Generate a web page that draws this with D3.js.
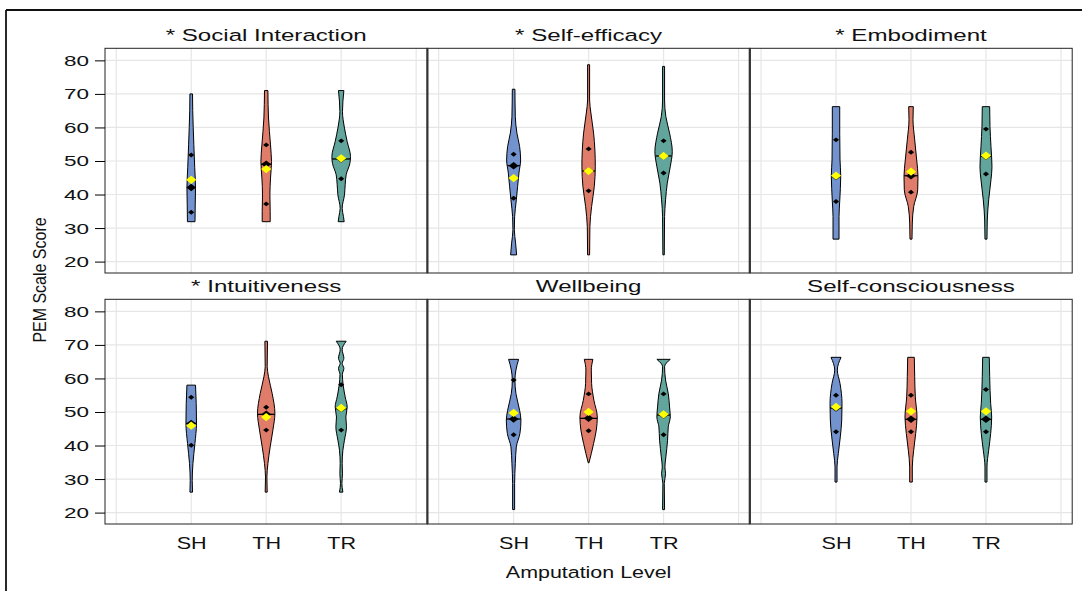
<!DOCTYPE html>
<html>
<head>
<meta charset="utf-8">
<script src="https://cdn.jsdelivr.net/npm/d3@7"></script>
<style>
  body { margin: 0; background: #fff; }
  svg { display: block; font-family: "Liberation Sans", Arial, sans-serif; }
</style>
</head>
<body>
<svg id="chart" width="1082" height="591"></svg>
<script>
// facets, groups and axis ticks
const panelTitles = ["* Social Interaction", "* Self-efficacy", "* Embodiment",
                     "* Intuitiveness", "Wellbeing", "Self-consciousness"];
const groups = ["SH", "TH", "TR"];
const groupPos = [1, 2, 3];
const gridX = [0, 1, 2, 3, 4];
const yTicks = [20, 30, 40, 50, 60, 70, 80];

// summary points per panel, per group (SH, TH, TR)
const q3 = [[51.8, 54.8, 56.0], [52.0, 53.6, 56.0], [56.3, 52.6, 59.5],
            [54.4, 51.4, 58.1], [59.5, 55.4, 55.4], [55.0, 55.0, 56.7]];
const medians = [[42.1, 49.0, 50.6], [48.6, 47.0, 51.5], [45.4, 45.6, 51.4],
                 [46.6, 49.3, 51.0], [47.9, 48.1, 49.1], [51.2, 47.8, 47.8]];
const means = [[44.4, 47.6, 50.8], [44.9, 47.0, 51.5], [45.6, 46.8, 51.6],
               [45.9, 48.5, 51.2], [49.7, 50.0, 49.3], [51.5, 50.2, 50.2]];
const q1 = [[34.7, 37.2, 44.7], [38.9, 41.1, 46.4], [37.9, 40.7, 46.1],
            [40.1, 44.6, 44.6], [43.2, 44.4, 43.2], [44.1, 44.1, 44.1]];

// violin density profiles: [score, relative density]
const densities = [
  [ // Social Interaction
    [[70, 0.13], [65, 0.15], [60, 0.2], [55, 0.26], [51.8, 0.3], [48, 0.35], [44.9, 0.4], [41.9, 0.43], [36.9, 0.4], [31.9, 0.38]],
    [[71, 0.17], [62.8, 0.23], [54.8, 0.43], [49.8, 0.53], [44.9, 0.43], [39.9, 0.37], [34.9, 0.4], [31.9, 0.4]],
    [[71, 0.27], [64.7, 0.13], [59.8, 0.33], [55.8, 0.6], [51.3, 0.93], [49.3, 0.87], [45.9, 0.5], [42.9, 0.4], [39.9, 0.33], [35.9, 0.1], [33.4, 0.23], [31.9, 0.3]]
  ],
  [ // Self-efficacy
    [[71.4, 0.13], [63.2, 0.17], [58.3, 0.33], [54.3, 0.6], [50.3, 0.7], [46.4, 0.53], [42.4, 0.4], [38.4, 0.27], [33.4, 0.1], [29.5, 0.07], [25.5, 0.2], [22, 0.3]],
    [[78.7, 0.1], [68.2, 0.1], [64.3, 0.23], [58.3, 0.5], [53.3, 0.63], [48.3, 0.67], [42.4, 0.57], [36.4, 0.3], [30.4, 0.13], [22, 0.1]],
    [[78.2, 0.1], [68.2, 0.1], [63.2, 0.23], [58.3, 0.6], [52.8, 0.87], [48.3, 0.67], [43.4, 0.37], [38.4, 0.2], [33.4, 0.1], [22, 0.07]]
  ],
  [ // Embodiment
    [[66.2, 0.37], [58.3, 0.37], [50.3, 0.4], [45.6, 0.47], [38, 0.37], [33.4, 0.3], [26.7, 0.3]],
    [[66.2, 0.23], [62.3, 0.2], [56.3, 0.37], [50.3, 0.57], [45.4, 0.7], [41.4, 0.67], [36.4, 0.27], [31.5, 0.13], [26.7, 0.1]],
    [[66.2, 0.37], [60.3, 0.4], [54.3, 0.5], [48.3, 0.6], [44.4, 0.5], [38.4, 0.27], [32.4, 0.13], [26.7, 0.1]]
  ],
  [ // Intuitiveness
    [[58, 0.43], [52.5, 0.5], [46.6, 0.53], [40.6, 0.37], [34.6, 0.17], [29.6, 0.1], [26.1, 0.13]],
    [[71.1, 0.13], [63.5, 0.1], [60.5, 0.23], [55.5, 0.6], [49.6, 0.87], [44.6, 0.67], [39.6, 0.4], [34.6, 0.17], [30.6, 0.07], [26.1, 0.1]],
    [[71.1, 0.5], [68.6, 0.1], [66, 0.27], [64.5, 0.1], [63, 0.27], [61.2, 0.12], [58, 0.2], [54.5, 0.4], [51.5, 0.6], [48.5, 0.47], [45.6, 0.53], [41.6, 0.33], [38.6, 0.17], [34.6, 0.1], [31.6, 0.13], [28.7, 0.07], [26.1, 0.17]]
  ],
  [ // Wellbeing
    [[65.7, 0.5], [62.5, 0.23], [59.5, 0.13], [55.5, 0.23], [50.5, 0.6], [47.6, 0.73], [43.6, 0.63], [39.6, 0.27], [34.6, 0.17], [28.7, 0.1], [20.9, 0.1]],
    [[65.7, 0.43], [62.5, 0.27], [58.5, 0.3], [53.5, 0.53], [48.5, 0.87], [44.6, 0.77], [40.6, 0.5], [37.6, 0.27], [34.8, 0.03]],
    [[65.7, 0.67], [63.5, 0.1], [59.5, 0.2], [55.5, 0.47], [51.5, 0.6], [48.5, 0.67], [45.6, 0.47], [41.6, 0.4], [36.6, 0.23], [33.6, 0.13], [31.6, 0.2], [28.7, 0.07], [20.9, 0.1]]
  ],
  [ // Self-consciousness
    [[66.3, 0.5], [62.5, 0.13], [58.5, 0.4], [52.5, 0.6], [47.6, 0.57], [42.6, 0.43], [37.6, 0.23], [33.6, 0.1], [29.1, 0.1]],
    [[66.3, 0.33], [60.5, 0.37], [54.5, 0.43], [48.5, 0.6], [43.6, 0.47], [38.6, 0.27], [33.6, 0.13], [29.1, 0.13]],
    [[66.3, 0.33], [60.5, 0.37], [52.5, 0.47], [48.5, 0.57], [43.6, 0.47], [38.6, 0.27], [33.6, 0.1], [29.1, 0.1]]
  ]
];

const groupColors = ["#7393ce", "#e07c6a", "#62a59c"];

const svg = d3.select("#chart");
const plotLeft = 105, panelW = 322.4, panelH = 224.7;
const rowTop = [48.3, 299.3];

const x = d3.scaleLinear().domain([-0.15, 4.15]).range([0, panelW]);
const y = d3.scaleLinear().domain([16.6, 83.6]).range([panelH, 0]);
const w = d3.scaleLinear().domain([0, 1]).range([0, 10]);

// outer frame (top and left only, like the source)
svg.append("line").attr("x1", 6).attr("x2", 1082).attr("y1", 10).attr("y2", 10)
  .attr("stroke", "#111").attr("stroke-width", 1.8);
svg.append("line").attr("x1", 6).attr("x2", 6).attr("y1", 10).attr("y2", 591)
  .attr("stroke", "#111").attr("stroke-width", 1.8);

const diamond = d3.symbol().type(d3.symbolSquare);

panelTitles.forEach((title, p) => {
  const col = p % 3, row = Math.floor(p / 3);
  const g = svg.append("g")
    .attr("transform", "translate(" + (plotLeft + col * panelW) + "," + rowTop[row] + ")");

  // grid
  g.selectAll("line.hgrid").data(yTicks).enter().append("line")
    .attr("x1", 0).attr("x2", panelW)
    .attr("y1", d => y(d)).attr("y2", d => y(d))
    .attr("stroke", "#e6e6e6").attr("stroke-width", 1.2);
  g.selectAll("line.vgrid").data(gridX).enter().append("line")
    .attr("y1", 0).attr("y2", panelH)
    .attr("x1", d => x(d)).attr("x2", d => x(d))
    .attr("stroke", "#e6e6e6").attr("stroke-width", 1.2);

  // violins
  groups.forEach((grp, k) => {
    const cx = x(groupPos[k]);
    const prof = densities[p][k].slice().sort((a, b) => b[0] - a[0]);
    const area = d3.area()
      .curve(d3.curveMonotoneY)
      .y(d => y(d[0]))
      .x0(d => cx - w(d[1]))
      .x1(d => cx + w(d[1]));
    g.append("path").datum(prof)
      .attr("d", area)
      .attr("fill", groupColors[k])
      .attr("stroke", "#000").attr("stroke-width", 1);

    // median line across violin
    const dens = d3.scaleLinear().domain(prof.map(d => d[0])).range(prof.map(d => d[1]));
    const m = medians[p][k];
    g.append("line")
      .attr("x1", cx - w(dens(m))).attr("x2", cx + w(dens(m)))
      .attr("y1", y(m)).attr("y2", y(m))
      .attr("stroke", "#000").attr("stroke-width", 1.3);

    // quartile points
    [q1[p][k], q3[p][k]].forEach(v => {
      g.append("path").attr("d", diamond.size(12)())
        .attr("transform", "translate(" + cx + "," + y(v) + ") scale(1.25,1) rotate(45)")
        .attr("fill", "#000");
    });
    // median point
    g.append("path").attr("d", diamond.size(28)())
      .attr("transform", "translate(" + cx + "," + y(m) + ") scale(1.3,1) rotate(45)")
      .attr("fill", "#000");
    // mean point
    g.append("path").attr("d", diamond.size(34)())
      .attr("transform", "translate(" + cx + "," + y(means[p][k]) + ") scale(1.25,1) rotate(45)")
      .attr("fill", "#ffff00");
  });

  // panel frame
  g.append("rect").attr("width", panelW).attr("height", panelH)
    .attr("fill", "none").attr("stroke", "#222").attr("stroke-width", 1);
  if (col > 0) {
    g.append("line").attr("x1", 0).attr("x2", 0).attr("y1", 0).attr("y2", panelH)
      .attr("stroke", "#333").attr("stroke-width", 2.2);
  }

  // strip title
  g.append("text")
    .attr("transform", "translate(" + (panelW / 2) + ",-7) scale(1.42,1)")
    .attr("text-anchor", "middle")
    .attr("font-size", "17px").attr("fill", "#111")
    .text(title);

  // y axis on first column
  if (col === 0) {
    const ax = g.append("g").call(d3.axisLeft(y).tickValues(yTicks).tickSize(10));
    ax.select(".domain").remove();
    ax.selectAll(".tick line").attr("stroke", "#000");
    ax.selectAll(".tick text")
      .attr("x", null).attr("dy", null)
      .attr("transform", "translate(-16,5) scale(1.5,1)")
      .attr("font-size", "15px").attr("font-family", "Liberation Sans, Arial, sans-serif")
      .attr("fill", "#111");
  }

  // x labels on bottom row
  if (row === 1) {
    const ax = g.append("g").attr("transform", "translate(0," + panelH + ")")
      .call(d3.axisBottom(x).tickValues(groupPos).tickFormat((d, i) => groups[i]).tickSize(0));
    ax.select(".domain").remove();
    ax.selectAll(".tick text")
      .attr("y", null).attr("dy", null)
      .attr("transform", "translate(0,25) scale(1.35,1)")
      .attr("font-size", "16px").attr("font-family", "Liberation Sans, Arial, sans-serif")
      .attr("fill", "#111");
  }
});

// axis titles
svg.append("text")
  .attr("transform", "translate(" + (plotLeft + panelW * 1.5) + ",578) scale(1.3,1)")
  .attr("text-anchor", "middle").attr("font-size", "16.5px").attr("fill", "#111")
  .text("Amputation Level");
svg.append("text")
  .attr("transform", "translate(46,280) scale(1.1,1) rotate(-90)")
  .attr("text-anchor", "middle").attr("font-size", "16px").attr("fill", "#111")
  .text("PEM Scale Score");
</script>
</body>
</html>
